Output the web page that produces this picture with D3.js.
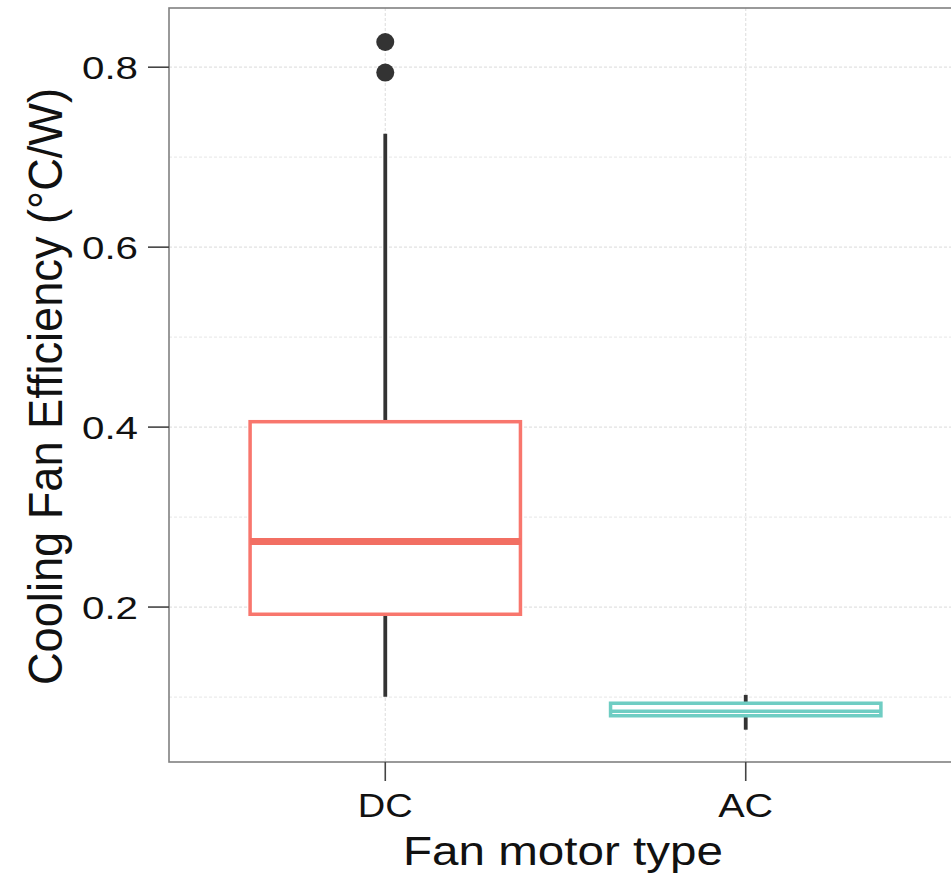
<!DOCTYPE html>
<html>
<head>
<meta charset="utf-8">
<script src="https://cdn.jsdelivr.net/npm/d3@7"></script>
<style>
  html, body { margin: 0; padding: 0; background: #ffffff; overflow: hidden; }
  svg { display: block; }
  text { font-family: "Liberation Sans", Arial, Helvetica, sans-serif; fill: #111; }
</style>
</head>
<body>
<script>
// ---- data ----
const categories = ["DC", "AC"];
const whiskerLow = [0.1003, 0.0637];
const q1 = [0.192, 0.0792];
const median = [0.273, 0.0842];
const q3 = [0.406, 0.0931];
const whiskerHigh = [0.726, 0.1024];
const outliers = [[0.828, 0.794], []];
const yTicks = [0.2, 0.4, 0.6, 0.8];
const yMinorTicks = [0.1, 0.3, 0.5, 0.7];
const yLimits = [0.0278, 0.8658];
const colors = ["#F8766D", "#6FCDC3"];
const medianColors = ["#F26F63", "#6FCDC3"];
const xTitle = "Fan motor type";
const yTitle = "Cooling Fan Efficiency (°C/W)";

// ---- layout ----
const W = 951, H = 880;
const panel = { left: 169, right: 962, top: 8, bottom: 762 };

const svg = d3.select("body").append("svg").attr("width", W).attr("height", H);

const x = d3.scalePoint().domain(categories).range([panel.left, panel.right]).padding(0.6);
const y = d3.scaleLinear().domain(yLimits).range([panel.bottom, panel.top]);
const boxW = x.step() * 0.75;

// grid
const grid = svg.append("g");
grid.selectAll("line.minor").data(yMinorTicks).join("line")
  .attr("x1", panel.left).attr("x2", panel.right)
  .attr("y1", d => y(d)).attr("y2", d => y(d))
  .attr("stroke", "#ececec").attr("stroke-width", 1.2).attr("stroke-dasharray", "3,2");
grid.selectAll("line.major").data(yTicks).join("line")
  .attr("x1", panel.left).attr("x2", panel.right)
  .attr("y1", d => y(d)).attr("y2", d => y(d))
  .attr("stroke", "#e2e2e2").attr("stroke-width", 1.2).attr("stroke-dasharray", "3,2");
grid.selectAll("line.vx").data(categories).join("line")
  .attr("x1", d => x(d)).attr("x2", d => x(d))
  .attr("y1", panel.top).attr("y2", panel.bottom)
  .attr("stroke", "#e2e2e2").attr("stroke-width", 1.2).attr("stroke-dasharray", "3,2");

// boxes
const idx = d3.range(categories.length);
const g = svg.append("g");
g.selectAll("line.wh").data(idx).join("line")
  .attr("x1", i => x(categories[i])).attr("x2", i => x(categories[i]))
  .attr("y1", i => y(whiskerHigh[i])).attr("y2", i => y(q3[i]))
  .attr("stroke", "#333").attr("stroke-width", 3.8);
g.selectAll("line.wl").data(idx).join("line")
  .attr("x1", i => x(categories[i])).attr("x2", i => x(categories[i]))
  .attr("y1", i => y(q1[i])).attr("y2", i => y(whiskerLow[i]))
  .attr("stroke", "#333").attr("stroke-width", 3.8);
g.selectAll("rect.box").data(idx).join("rect")
  .attr("x", i => x(categories[i]) - boxW / 2)
  .attr("width", boxW)
  .attr("y", i => y(q3[i]))
  .attr("height", i => y(q1[i]) - y(q3[i]))
  .attr("fill", "#fff")
  .attr("stroke", i => colors[i]).attr("stroke-width", 3.5);
g.selectAll("line.med").data(idx).join("line")
  .attr("x1", i => x(categories[i]) - boxW / 2)
  .attr("x2", i => x(categories[i]) + boxW / 2)
  .attr("y1", i => y(median[i])).attr("y2", i => y(median[i]))
  .attr("stroke", i => medianColors[i]).attr("stroke-width", i => i === 0 ? 7 : 3.5);
const outPts = [];
outliers.forEach((arr, i) => arr.forEach(v => outPts.push({ c: categories[i], v })));
g.selectAll("circle.out").data(outPts).join("circle")
  .attr("cx", d => x(d.c)).attr("cy", d => y(d.v)).attr("r", 9)
  .attr("fill", "#333");

// panel border
svg.append("rect")
  .attr("x", panel.left).attr("y", panel.top)
  .attr("width", panel.right - panel.left).attr("height", panel.bottom - panel.top)
  .attr("fill", "none").attr("stroke", "#808080").attr("stroke-width", 1.6);

// y axis ticks & labels
const ya = svg.append("g");
ya.selectAll("line").data(yTicks).join("line")
  .attr("x1", panel.left - 21).attr("x2", panel.left)
  .attr("y1", d => y(d)).attr("y2", d => y(d))
  .attr("stroke", "#444").attr("stroke-width", 1.6);
ya.selectAll("text").data(yTicks).join("text")
  .attr("x", 138).attr("y", d => y(d) + 11.5)
  .attr("text-anchor", "end")
  .attr("font-size", 32)
  .attr("textLength", 56).attr("lengthAdjust", "spacingAndGlyphs")
  .text(d => d3.format(".1f")(d));

// x axis ticks & labels
const xa = svg.append("g");
xa.selectAll("line").data(categories).join("line")
  .attr("x1", d => x(d)).attr("x2", d => x(d))
  .attr("y1", panel.bottom).attr("y2", panel.bottom + 19)
  .attr("stroke", "#444").attr("stroke-width", 1.6);
xa.selectAll("text").data(categories).join("text")
  .attr("x", d => x(d)).attr("y", 817)
  .attr("text-anchor", "middle")
  .attr("font-size", 33)
  .attr("textLength", 55).attr("lengthAdjust", "spacingAndGlyphs")
  .text(d => d);

// titles
svg.append("text")
  .attr("x", 563).attr("y", 865)
  .attr("text-anchor", "middle")
  .attr("font-size", 40)
  .attr("textLength", 320).attr("lengthAdjust", "spacingAndGlyphs")
  .text(xTitle);

svg.append("text")
  .attr("transform", "translate(62,386.5) rotate(-90)")
  .attr("text-anchor", "middle")
  .attr("font-size", 48)
  .attr("textLength", 597).attr("lengthAdjust", "spacingAndGlyphs")
  .text(yTitle);
</script>
</body>
</html>
